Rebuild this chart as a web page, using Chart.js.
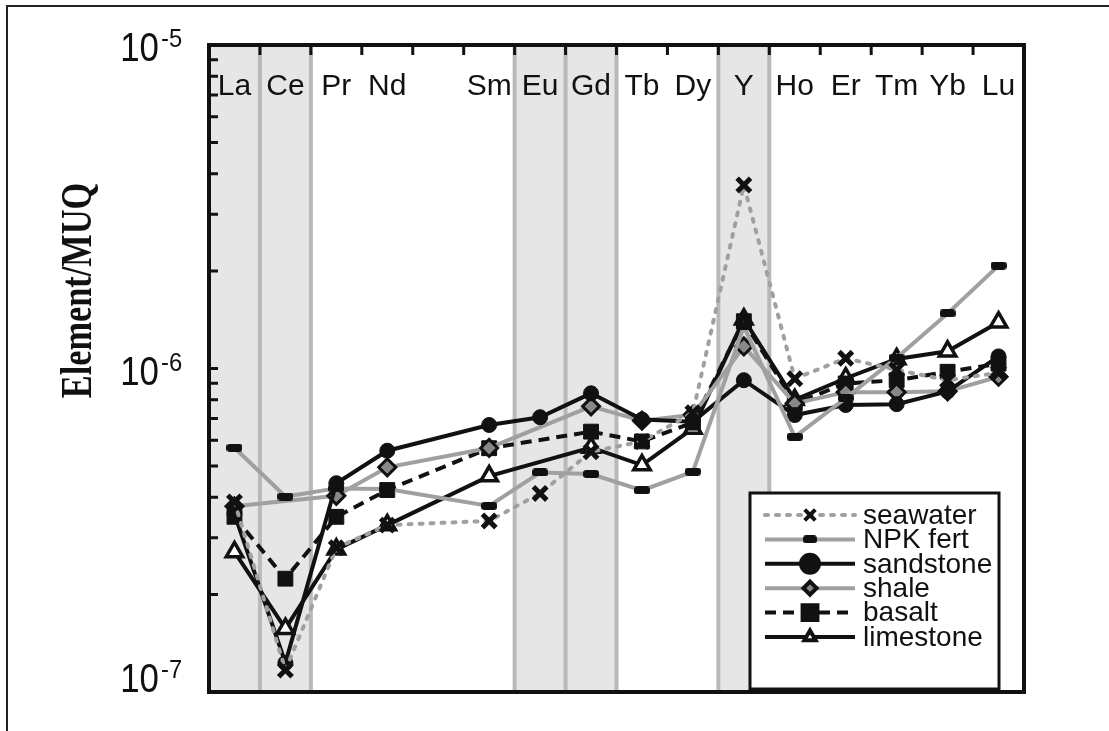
<!DOCTYPE html>
<html>
<head>
<meta charset="utf-8">
<script src="https://cdn.jsdelivr.net/npm/chart.js@4.4.1/dist/chart.umd.min.js"></script>
<style>
  body { margin: 0; background: #fff; }
  #wrap { position: relative; width: 1109px; height: 731px; }
</style>
</head>
<body>
<div id="wrap"><canvas id="reeChart" width="1109" height="731"></canvas></div>
<script>
// element order along the x axis (Pm slot left blank)
const elements = ['La', 'Ce', 'Pr', 'Nd', '', 'Sm', 'Eu', 'Gd', 'Tb', 'Dy', 'Y', 'Ho', 'Er', 'Tm', 'Yb', 'Lu'];
const shaded = ['La', 'Ce', 'Eu', 'Gd', 'Y'];
const yTicks = [1e-7, 1e-6, 1e-5];
const yTickExp = ['-7', '-6', '-5'];
const yTitle = 'Element/MUQ';

// normalised values (Element/MUQ), null = not plotted
const seawater  = [3.87e-7, 1.17e-7, 2.79e-7, 3.28e-7, null, 3.38e-7, 4.11e-7, 5.53e-7, 5.95e-7, 7.3e-7, 3.69e-6, 9.3e-7, 1.075e-6, 9.9e-7, 9.2e-7, 9.7e-7];
const npkFert   = [5.69e-7, 4.02e-7, 4.26e-7, 4.24e-7, null, 3.76e-7, 4.77e-7, 4.72e-7, 4.2e-7, 4.8e-7, 1.35e-6, 6.15e-7, 8.1e-7, 1.08e-6, 1.48e-6, 2.08e-6];
const sandstone = [3.55e-7, 1.23e-7, 4.42e-7, 5.57e-7, null, 6.69e-7, 7.07e-7, 8.38e-7, 6.95e-7, 6.85e-7, 9.2e-7, 7.18e-7, 7.71e-7, 7.76e-7, 8.5e-7, 1.09e-6];
const shale     = [3.75e-7, null, 4.04e-7, 4.95e-7, null, 5.68e-7, null, 7.64e-7, 6.9e-7, 7.2e-7, 1.17e-6, 7.8e-7, 8.45e-7, 8.45e-7, 8.5e-7, 9.43e-7];
const basalt    = [3.48e-7, 2.24e-7, 3.48e-7, 4.21e-7, null, 5.67e-7, null, 6.38e-7, 5.95e-7, 6.8e-7, 1.4e-6, 7.8e-7, 8.99e-7, 9.2e-7, 9.77e-7, 1.035e-6];
const limestone = [2.71e-7, 1.57e-7, 2.76e-7, 3.28e-7, null, 4.65e-7, null, 5.7e-7, 5.03e-7, 6.53e-7, 1.42e-6, 8.0e-7, 9.33e-7, 1.07e-6, 1.13e-6, 1.39e-6];

const INK = '#111';
const GRAY = '#a0a0a0';

// rounded dash marker for the fertiliser series
function dashMarker(w, h) {
  const c = document.createElement('canvas');
  c.width = w; c.height = h;
  const g = c.getContext('2d');
  g.fillStyle = INK;
  g.beginPath();
  g.roundRect(0, 0, w, h, h / 2.5);
  g.fill();
  return c;
}
const npkDash = dashMarker(16, 8);
const npkDashSmall = dashMarker(14, 8);

function series(label, data, line, dash, point) {
  return {
    label: label,
    data: data,
    borderColor: line,
    borderWidth: 4,
    borderDash: dash,
    borderCapStyle: point.cap || 'butt',
    fill: false,
    tension: 0,
    spanGaps: true,
    pointStyle: point.style,
    pointRadius: point.r,
    pointBorderWidth: point.bw,
    pointBackgroundColor: point.bg,
    pointBorderColor: INK,
    legendStyle: point.ls || point.style,
    legendRadius: point.lr,
    legendBorder: point.lbw
  };
}

const datasets = [
  series('seawater', seawater, GRAY, [3, 8], { style: 'crossRot', r: 9.5, bw: 5, bg: INK, lr: 7.5, lbw: 4.5, cap: 'round' }),
  series('NPK fert', npkFert, GRAY, [], { style: npkDash, r: 8, bw: 0, bg: INK, ls: npkDashSmall, lr: 7, lbw: 0 }),
  series('sandstone', sandstone, INK, [], { style: 'circle', r: 7.5, bw: 1, bg: INK, lr: 9, lbw: 1 }),
  series('shale', shale, GRAY, [], { style: 'rectRot', r: 8.5, bw: 3, bg: '#888', lr: 6.5, lbw: 3 }),
  series('basalt', basalt, INK, [11, 7], { style: 'rect', r: 10.5, bw: 1, bg: INK, lr: 10.5, lbw: 1 }),
  series('limestone', limestone, INK, [], { style: 'triangle', r: 9.5, bw: 3.5, bg: '#fff', lr: 6.5, lbw: 3 })
];

function condensedText(ctx, text, x, y, sx) {
  ctx.save();
  ctx.translate(x, y);
  ctx.scale(sx, 1);
  ctx.fillText(text, 0, 0);
  ctx.restore();
}

const backdrop = {
  id: 'backdrop',
  beforeDatasetsDraw(chart) {
    const { ctx, chartArea: a, scales: { x } } = chart;
    const half = (x.getPixelForValue(1) - x.getPixelForValue(0)) / 2;
    ctx.save();
    ctx.fillStyle = '#e6e6e6';
    shaded.forEach(el => {
      const cx = x.getPixelForValue(elements.indexOf(el));
      ctx.fillRect(cx - half, a.top, half * 2, a.bottom - a.top);
    });
    ctx.strokeStyle = '#b9b9b9';
    ctx.lineWidth = 4;
    ctx.beginPath();
    shaded.forEach(el => {
      const cx = x.getPixelForValue(elements.indexOf(el));
      [cx - half, cx + half].forEach(bx => {
        if (bx > a.left + 3) { ctx.moveTo(bx, a.top); ctx.lineTo(bx, a.bottom); }
      });
    });
    ctx.stroke();

    // element names inside the top of the plot
    ctx.fillStyle = INK;
    ctx.font = '30px "Liberation Sans", Arial, sans-serif';
    ctx.textAlign = 'center';
    ctx.textBaseline = 'alphabetic';
    elements.forEach((el, i) => ctx.fillText(el, x.getPixelForValue(i), a.top + 50));
    ctx.restore();
  },
  afterDraw(chart) {
    const { ctx, chartArea: a, scales: { x, y } } = chart;
    ctx.save();

    // outer page border
    ctx.strokeStyle = '#222';
    ctx.lineWidth = 2;
    ctx.beginPath();
    ctx.moveTo(7, chart.height);
    ctx.lineTo(7, 6);
    ctx.lineTo(chart.width, 6);
    ctx.stroke();

    // plot frame
    ctx.strokeStyle = INK;
    ctx.lineWidth = 4;
    ctx.strokeRect(a.left, a.top, a.right - a.left, a.bottom - a.top);

    // top ticks between categories
    ctx.lineWidth = 3;
    ctx.beginPath();
    for (let i = 0; i < elements.length - 1; i++) {
      const bx = (x.getPixelForValue(i) + x.getPixelForValue(i + 1)) / 2;
      ctx.moveTo(bx, a.top);
      ctx.lineTo(bx, a.top + 10);
    }
    // left log ticks
    for (let d = 0; d < yTicks.length - 1; d++) {
      for (let m = 1; m <= 9; m++) {
        const ty = y.getPixelForValue(yTicks[d] * m);
        ctx.moveTo(a.left, ty);
        ctx.lineTo(a.left + 9, ty);
      }
    }
    ctx.stroke();

    // y tick labels 10^n
    ctx.fillStyle = INK;
    yTicks.forEach((v, i) => {
      const ty = y.getPixelForValue(v);
      const base = Math.min(ty + 16, a.bottom);
      ctx.font = '41px "Liberation Sans", Arial, sans-serif';
      ctx.textAlign = 'right';
      ctx.textBaseline = 'alphabetic';
      condensedText(ctx, '10', a.left - 50, base, 0.85);
      ctx.font = '25px "Liberation Sans", Arial, sans-serif';
      ctx.textAlign = 'left';
      condensedText(ctx, yTickExp[i], a.left - 48, base - 14, 0.95);
    });

    // y axis title
    ctx.save();
    ctx.translate(80, (a.top + a.bottom) / 2 - 78);
    ctx.rotate(-Math.PI / 2);
    ctx.scale(0.78, 1);
    ctx.font = 'bold 44px "Liberation Serif", "Times New Roman", serif';
    ctx.textAlign = 'center';
    ctx.textBaseline = 'middle';
    ctx.fillText(yTitle, 0, 0);
    ctx.restore();

    // legend box
    const box = { left: a.right - 274, top: a.bottom - 199, w: 249, h: 196 };
    ctx.fillStyle = '#fff';
    ctx.fillRect(box.left, box.top, box.w, box.h);
    ctx.strokeStyle = INK;
    ctx.lineWidth = 3;
    ctx.strokeRect(box.left, box.top, box.w, box.h);

    chart.data.datasets.forEach((ds, i) => {
      const ry = box.top + 22 + i * 24.4;
      const x0 = box.left + 15, x1 = box.left + 105, mx = (x0 + x1) / 2;
      ctx.save();
      ctx.strokeStyle = ds.borderColor;
      ctx.lineWidth = 4;
      ctx.lineCap = ds.borderCapStyle;
      ctx.setLineDash(ds.borderDash);
      ctx.beginPath();
      ctx.moveTo(x0, ry);
      ctx.lineTo(x1, ry);
      ctx.stroke();
      ctx.setLineDash([]);
      ctx.fillStyle = ds.pointBackgroundColor;
      ctx.strokeStyle = ds.pointBorderColor;
      ctx.lineCap = 'butt';
      Chart.helpers.drawPoint(ctx, {
        pointStyle: ds.legendStyle,
        radius: ds.legendRadius,
        borderWidth: ds.legendBorder,
        rotation: 0
      }, mx, ry);
      ctx.restore();

      ctx.fillStyle = INK;
      ctx.font = '28px "Liberation Sans", Arial, sans-serif';
      ctx.textAlign = 'left';
      ctx.textBaseline = 'middle';
      ctx.fillText(ds.label, box.left + 113, ry + 1);
    });
    ctx.restore();
  }
};

try {
  const ctx = document.getElementById('reeChart').getContext('2d');
  new Chart(ctx, {
    type: 'line',
    data: { labels: elements, datasets: datasets },
    options: {
      responsive: false,
      animation: false,
      layout: { padding: { left: 209, right: 85, top: 45, bottom: 39 } },
      plugins: { legend: { display: false }, tooltip: { enabled: false } },
      scales: {
        x: { type: 'category', offset: true, display: false },
        y: { type: 'logarithmic', min: 1e-7, max: 1e-5, display: false }
      }
    },
    plugins: [backdrop]
  });
} catch (error) {
  console.error('Error rendering the chart:', error);
}
</script>
</body>
</html>
